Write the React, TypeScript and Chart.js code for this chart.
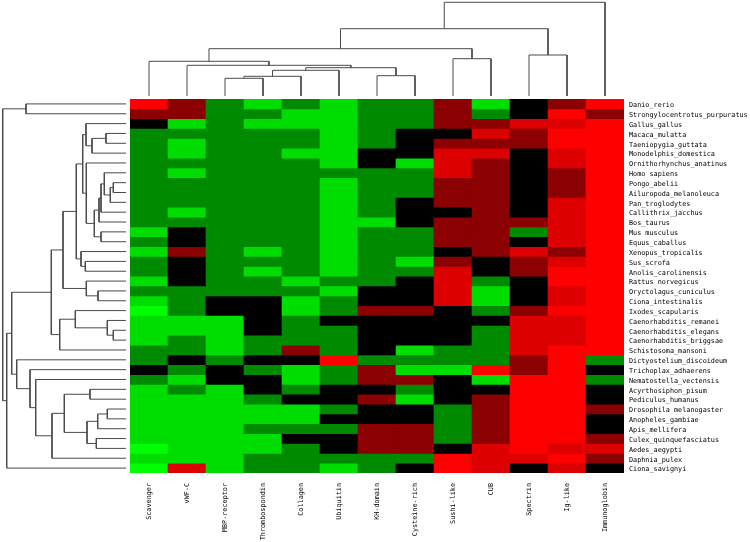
import React, { useEffect, useRef } from "react";
import Chart from "chart.js/auto";

const domains = ["Scavenger","vWF-C","MBP-receptor","Thrombospondin","Collagen","Ubiquitin","KH-domain","Cysteine-rich","Sushi-like","CUB","Spectrin","Ig-like","Immunoglobin"];
const species = ["Danio_rerio","Strongylocentrotus_purpuratus","Gallus_gallus","Macaca_mulatta","Taeniopygia_guttata","Monodelphis_domestica","Ornithorhynchus_anatinus","Homo sapiens","Pongo_abelii","Ailuropoda_melanoleuca","Pan_troglodytes","Callithrix_jacchus","Bos_taurus","Mus musculus","Equus_caballus","Xenopus_tropicalis","Sus_scrofa","Anolis_carolinensis","Rattus norvegicus","Oryctolagus_cuniculus","Ciona_intestinalis","Ixodes_scapularis","Caenorhabditis_remanei","Caenorhabditis_elegans","Caenorhabditis_briggsae","Schistosoma_mansoni","Dictyostelium_discoideum","Trichoplax_adhaerens","Nematostella_vectensis","Acyrthosiphon_pisum","Pediculus_humanus","Drosophila melanogaster","Anopheles_gambiae","Apis_mellifera","Culex_quinquefasciatus","Aedes_aegypti","Daphnia_pulex","Ciona_savignyi"];

// Expression level per species (top to bottom), one list per domain. Negative = green, positive = red.
const scavenger = [3,1,0,-1,-1,-1,-1,-1,-1,-1,-1,-1,-1,-2,-1,-2,-1,-1,-2,-1,-2,-3,-2,-2,-2,-1,-1,0,-1,-2,-2,-2,-2,-2,-2,-3,-2,-3];
const vwfC = [1,1,-2,-1,-2,-2,-1,-2,-1,-1,-1,-2,-1,0,0,1,0,0,0,-1,-1,-1,-2,-2,-1,-1,0,-1,-2,-1,-2,-2,-2,-2,-2,-2,-2,2];
const mbpReceptor = [-1,-1,-1,-1,-1,-1,-1,-1,-1,-1,-1,-1,-1,-1,-1,-1,-1,-1,-1,-1,0,0,-2,-2,-2,-2,-1,0,0,-2,-2,-2,-2,-2,-2,-2,-2,-2];
const thrombospondin = [-2,-1,-2,-1,-1,-1,-1,-1,-1,-1,-1,-1,-1,-1,-1,-2,-1,-2,-1,-1,0,0,0,0,-1,-1,0,-1,0,0,-1,-2,-2,-1,-2,-2,-1,-1];
const collagen = [-1,-2,-2,-1,-1,-2,-1,-1,-1,-1,-1,-1,-1,-1,-1,-1,-1,-1,-2,-1,-2,-2,-1,-1,-1,1,0,-2,-2,-1,0,-2,-2,-1,0,-1,-1,-1];
const ubiquitin = [-2,-2,-2,-2,-2,-2,-2,-1,-2,-2,-2,-2,-2,-2,-2,-2,-2,-2,-1,-2,-1,-1,0,-1,-1,-1,3,-1,-1,0,0,-1,0,-1,0,0,-1,-2];
const khDomain = [-1,-1,-1,-1,-1,0,0,-1,-1,-1,-1,-1,-2,-1,-1,-1,-1,-1,-1,0,0,1,0,0,0,0,-1,1,1,0,1,0,0,1,1,1,-1,-1];
const cysteineRich = [-1,-1,-1,0,0,0,-2,-1,-1,-1,0,0,0,-1,-1,-1,-2,-1,0,0,0,1,0,0,0,-2,-1,-2,1,-1,-2,0,0,1,1,1,-1,0];
const sushiLike = [1,1,1,0,1,2,2,2,1,1,1,0,1,1,1,0,1,2,2,2,2,0,0,0,0,-1,-1,-2,0,0,0,-1,-1,-1,-1,0,3,3];
const cub = [-2,-1,1,2,1,2,1,1,1,1,1,1,1,1,1,1,0,0,-1,-2,-2,-1,0,-1,-1,-1,-1,3,-2,0,1,1,1,1,1,2,2,2];
const spectrin = [0,0,2,1,1,0,0,0,0,0,0,0,1,-1,0,2,1,1,0,0,0,1,2,2,2,2,1,1,3,3,3,3,3,3,3,3,2,0];
const igLike = [1,3,2,3,3,2,2,1,1,1,2,2,2,2,2,1,2,3,3,2,2,3,2,2,2,3,3,3,3,3,3,3,3,3,3,2,3,2];
const immunoglobin = [3,1,3,3,3,3,3,3,3,3,3,3,3,3,3,3,3,3,3,3,3,3,3,3,3,3,-1,0,-1,0,0,1,0,0,1,2,1,0];

// Dendrograms as [left, right, height]: negative = leaf number (1-based), positive = earlier merge number (1-based).
const rowMerges = [[-1,-2,100],[-4,-5,20],[2,-6,34],[-3,3,40],[-9,-10,12.7],[5,-11,15.7],[-8,6,21.7],[7,-12,25],[8,-13,27],[-14,-15,25],[9,10,31.7],[-7,11,39.7],[4,12,43.3],[-17,-18,40.7],[-16,14,45],[13,15,49.7],[-20,-21,28],[-19,17,39.7],[16,18,63],[-24,-25,12.7],[-23,20,18.7],[-22,21,50.7],[22,-26,66.3],[19,23,74.7],[-30,-31,36],[-32,-33,18.7],[26,-34,28.3],[-35,-36,29.7],[27,28,39],[25,29,61.7],[30,-37,74],[-29,31,90.3],[-28,32,96],[-27,33,109.3],[24,34,114.3],[35,-38,119.3],[1,36,123.3]];
const columnMerges = [[-3,-4,17.7],[1,-5,19.7],[2,-6,25.7],[-7,-8,20.3],[3,4,28.3],[-2,5,30.7],[-1,6,34.7],[-9,-10,37.3],[7,8,47.3],[-11,-12,41],[9,10,67.3],[11,-13,93.7]];
const ROW_HEIGHT_MAX = 126;
const COLUMN_HEIGHT_MAX = 96;

const columns = [scavenger,vwfC,mbpReceptor,thrombospondin,collagen,ubiquitin,khDomain,cysteineRich,sushiLike,cub,spectrin,igLike,immunoglobin];
const palette: Record<string,string> = {"-3":"#00ff00","-2":"#00dd00","-1":"#008a00","0":"#000000","1":"#8b0000","2":"#dd0000","3":"#ff0000"};
const FONT = { family: "'DejaVu Sans Mono', 'Liberation Mono', monospace", size: 6.8 };
const LINE = "#4a4a4a";

function dendrogramDatasets(merges: number[][], vertical: boolean) {
  const nodes: { pos: number; h: number }[] = [];
  const node = (id: number) => (id < 0 ? { pos: -id - 0.5, h: 0 } : nodes[id - 1]);
  const pt = (pos: number, h: number) => (vertical ? { x: pos, y: h } : { x: h, y: pos });
  return merges.map(([a, b, h]) => {
    const l = node(a);
    const r = node(b);
    nodes.push({ pos: (l.pos + r.pos) / 2, h });
    return {
      data: [pt(l.pos, l.h), pt(l.pos, h), pt(r.pos, h), pt(r.pos, r.h)],
      showLine: true, borderColor: LINE, borderWidth: 1, pointRadius: 0, tension: 0, clip: false as any,
    };
  });
}

const hidden = { legend: { display: false }, tooltip: { enabled: false }, title: { display: false } };

export default function App() {
  const heatRef = useRef<HTMLCanvasElement>(null);
  const leftRef = useRef<HTMLCanvasElement>(null);
  const topRef = useRef<HTMLCanvasElement>(null);

  useEffect(() => {
    const heat = new Chart(heatRef.current!, {
      type: "bar",
      data: {
        labels: domains,
        datasets: species.map((name, r) => ({
          label: name,
          // slight upward overlap hides seams; the earlier row is painted over it
          data: columns.map(() => [r - 0.15, r + 1]) as any,
          backgroundColor: columns.map((c) => palette[String(c[r])]),
          borderWidth: 0,
          grouped: false,
          barPercentage: 1,
          categoryPercentage: 1,
        })),
      },
      options: {
        responsive: false, animation: false,
        layout: { padding: { left: 130, top: 99, right: 0, bottom: 0 } },
        plugins: hidden,
        scales: {
          x: {
            type: "category", position: "bottom",
            grid: { display: false, drawTicks: false }, border: { display: false },
            ticks: { color: "#000", font: FONT, maxRotation: 90, minRotation: 90, padding: 10, autoSkip: false },
            afterFit: (s: any) => { s.height = 69; },
          },
          y: { type: "linear", min: 0, max: 38, reverse: true, display: false },
          names: {
            type: "category", position: "right", labels: species, offset: true,
            grid: { display: false, drawTicks: false }, border: { display: false },
            ticks: { color: "#000", font: FONT, padding: 5, autoSkip: false, labelOffset: 1.5 },
            afterFit: (s: any) => { s.width = 126; },
          },
        },
      } as any,
    });

    const left = new Chart(leftRef.current!, {
      type: "scatter",
      data: { datasets: dendrogramDatasets(rowMerges, false) as any },
      options: {
        responsive: false, animation: false,
        layout: { padding: { left: 0, right: 4, top: 99, bottom: 69 } },
        plugins: hidden,
        scales: {
          x: { type: "linear", min: 0, max: ROW_HEIGHT_MAX, reverse: true, display: false },
          y: { type: "linear", min: 0, max: 38, reverse: true, display: false },
        },
      } as any,
    });

    const top = new Chart(topRef.current!, {
      type: "scatter",
      data: { datasets: dendrogramDatasets(columnMerges, true) as any },
      options: {
        responsive: false, animation: false,
        layout: { padding: { left: 130, right: 126, top: 0, bottom: 3 } },
        plugins: hidden,
        scales: {
          x: { type: "linear", min: 0, max: 13, display: false },
          y: { type: "linear", min: 0, max: COLUMN_HEIGHT_MAX, display: false },
        },
      } as any,
    });

    return () => { heat.destroy(); left.destroy(); top.destroy(); };
  }, []);

  return (
    <div style={{ position: "absolute", left: 0, top: 0, width: 750, height: 542, background: "#fff", overflow: "hidden" }}>
      <canvas ref={heatRef} width={750} height={542} style={{ position: "absolute", left: 0, top: 0 }} />
      <canvas ref={leftRef} width={130} height={542} style={{ position: "absolute", left: 0, top: 0 }} />
      <canvas ref={topRef} width={750} height={99} style={{ position: "absolute", left: 0, top: 0 }} />
    </div>
  );
}
